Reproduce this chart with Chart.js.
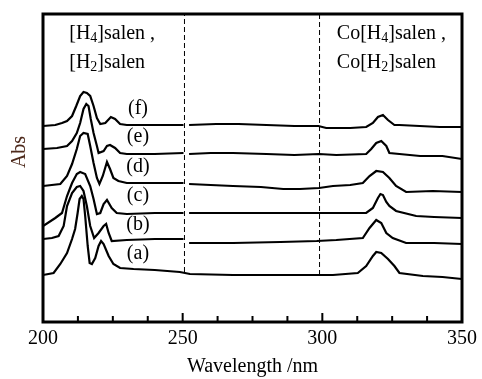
<!DOCTYPE html>
<html>
<head>
<meta charset="utf-8">
<script src="https://cdn.jsdelivr.net/npm/chart.js@4.4.1/dist/chart.umd.min.js"></script>
<style>
  html, body { margin: 0; padding: 0; background: #fff; }
  #wrap { width: 482px; height: 379px; }
</style>
</head>
<body>
<div id="wrap"><canvas id="chart" width="482" height="379"></canvas></div>
<script>
// UV spectra (a)-(f), stacked with an offset. [wavelength nm, Abs (arb.)]
// null = break in the trace just after the 250 nm splice
const curveA = [
  [200, 0.47], [203.8, 0.49], [206.2, 0.58], [208.6, 0.69], [210.4, 0.83], [211.5, 0.93],
  [212.4, 1.09], [213.1, 1.23], [213.9, 1.26], [214.5, 1.23], [215.1, 1.06], [216, 0.76],
  [216.7, 0.59], [217.5, 0.58], [218.7, 0.64], [219.9, 0.76], [220.8, 0.81], [221.7, 0.78],
  [223.5, 0.66], [225.2, 0.58], [227.6, 0.54], [232.4, 0.53], [240, 0.52], [249, 0.50],
  [252.6, 0.48], [268, 0.47], [285, 0.47], [298.8, 0.47], [303.8, 0.47], [312.7, 0.49],
  [315.7, 0.56], [318.1, 0.66], [319.3, 0.70], [321.1, 0.69], [323.5, 0.63], [325.8, 0.56],
  [327.6, 0.49], [336, 0.46], [343, 0.45], [350, 0.43]
];
const curveB = [
  [200, 0.83], [203.2, 0.84], [205.6, 0.86], [207.4, 0.96], [208.6, 1.16], [210.4, 1.29],
  [212.1, 1.35], [213.3, 1.36], [214.5, 1.31], [215.7, 1.16], [216.9, 0.96], [218.3, 0.84],
  [219.9, 0.89], [221.7, 0.96], [222.6, 0.98], [223.5, 0.89], [224.6, 0.81], [230, 0.82],
  [240, 0.83], [250.3, 0.83], [250.8, null], [252.3, 0.79], [268, 0.79], [285, 0.80],
  [298, 0.81], [305, 0.82], [314.5, 0.84], [316.9, 0.94], [319.3, 1.02], [321.1, 0.99],
  [322.9, 0.89], [325.2, 0.84], [330, 0.79], [340, 0.79], [350, 0.78]
];
const curveC = [
  [200, 0.96], [204.4, 1.04], [206.8, 1.09], [208.6, 1.26], [210.4, 1.39], [212.1, 1.48],
  [213.3, 1.50], [215.1, 1.48], [216.9, 1.36], [218.1, 1.23], [219.3, 1.08], [220.5, 1.09],
  [221.7, 1.18], [222.9, 1.22], [224.6, 1.14], [226.4, 1.09], [230, 1.08], [240, 1.09],
  [250.3, 1.09], [250.8, null], [252.3, 1.09], [268, 1.09], [285, 1.09], [298.8, 1.09],
  [315.7, 1.09], [318.1, 1.14], [319.9, 1.24], [320.8, 1.28], [321.7, 1.27], [322.9, 1.20],
  [324, 1.16], [326.4, 1.11], [333.6, 1.06], [340, 1.05], [350, 1.04]
];
const curveD = [
  [200, 1.36], [206.2, 1.38], [208.6, 1.46], [210.4, 1.58], [212.1, 1.73], [213.3, 1.86],
  [214.5, 1.89], [216, 1.88], [216.9, 1.76], [218.1, 1.59], [219.3, 1.44], [220.2, 1.38],
  [221.4, 1.46], [222.9, 1.60], [224, 1.53], [225.2, 1.44], [227, 1.41], [230, 1.39],
  [240, 1.39], [250.3, 1.39], [250.8, null], [252.3, 1.38], [260, 1.37], [268, 1.36],
  [278, 1.35], [286, 1.33], [292, 1.33], [298.8, 1.34], [303.8, 1.36], [310, 1.37],
  [314.5, 1.39], [316.9, 1.46], [319.3, 1.51], [321.7, 1.50], [324, 1.44], [326.4, 1.36],
  [330, 1.30], [339.5, 1.31], [350, 1.30]
];
const curveE = [
  [200, 1.73], [205, 1.74], [208.6, 1.76], [210.4, 1.81], [212.1, 1.89], [213.3, 1.99],
  [214.5, 2.13], [215.5, 2.18], [216.3, 2.16], [217.1, 2.03], [218.1, 1.89], [219.3, 1.76],
  [219.9, 1.69], [221.7, 1.71], [222.9, 1.76], [224, 1.77], [225.8, 1.74], [227.6, 1.69],
  [230, 1.68], [240, 1.68], [250.3, 1.69], [250.8, null], [252.3, 1.68], [260, 1.69],
  [268, 1.69], [280, 1.68], [290, 1.67], [298.8, 1.68], [305, 1.67], [315.7, 1.68],
  [317.5, 1.73], [319.3, 1.79], [321.1, 1.81], [322.9, 1.76], [324, 1.69], [327.6, 1.68],
  [335, 1.66], [343, 1.66], [350, 1.63]
];
const curveF = [
  [200, 1.96], [204.4, 1.97], [206.8, 1.99], [208.6, 2.01], [210.4, 2.06], [211.9, 2.16],
  [213.3, 2.26], [214.5, 2.30], [215.7, 2.29], [216.9, 2.26], [218.1, 2.16], [219.3, 2.04],
  [220.5, 1.98], [222.3, 1.99], [224.3, 2.05], [225.8, 2.03], [227.6, 1.98], [230, 1.97],
  [240, 1.97], [250.3, 1.97], [250.8, null], [252.3, 1.97], [262, 1.98], [270, 1.98],
  [280, 1.97], [290, 1.96], [298.6, 1.96], [301.4, 1.94], [310, 1.94], [315.7, 1.95],
  [318.1, 1.99], [319.9, 2.05], [321.7, 2.07], [323.5, 2.02], [325.8, 1.97], [327.6, 1.97],
  [334.8, 1.96], [342, 1.95], [350, 1.95]
];

const curveNames = ['(a)', '(b)', '(c)', '(d)', '(e)', '(f)'];
const xTickLabels = [200, 250, 300, 350];
const xMinorTicks = [212.5, 225, 237.5, 262.5, 275, 287.5, 312.5, 325, 337.5];
const cutLines = [250.65, 299.0];     // dashed separators (nm)
const cutLineEnds = [0.50, 0.47];     // they stop on trace (a)

const SERIF = '"Liberation Serif", "Times New Roman", serif';
const toXY = (pts) => pts.map(([x, y]) => ({ x, y }));

const datasets = [curveA, curveB, curveC, curveD, curveE, curveF].map((c, i) => ({
  label: curveNames[i],
  data: toXY(c),
  borderColor: '#000',
  borderWidth: 2.2,
  pointRadius: 0,
  tension: 0
}));
cutLines.forEach((wl, i) => datasets.push({
  label: 'cut' + i,
  data: [{ x: wl, y: cutLineEnds[i] }, { x: wl, y: 3.08 }],
  borderColor: '#000',
  borderWidth: 1,
  borderDash: [5, 3],
  pointRadius: 0
}));

// text with a subscript run: parts = [[text, isSub], ...]
function drawRich(ctx, parts, x, y) {
  ctx.textAlign = 'left';
  ctx.textBaseline = 'alphabetic';
  parts.forEach(([t, sub]) => {
    ctx.font = (sub ? '14px ' : '20px ') + SERIF;
    ctx.fillText(t, x, sub ? y + 3 : y);
    x += ctx.measureText(t).width;
  });
}

const framePlugin = {
  id: 'frame',
  afterDraw(chart) {
    const { ctx, chartArea: a, scales: { x, y } } = chart;
    ctx.save();
    ctx.strokeStyle = '#000';
    ctx.fillStyle = '#000';

    // inward ticks on the bottom axis
    ctx.lineWidth = 2;
    ctx.beginPath();
    xTickLabels.forEach(v => {
      const px = x.getPixelForValue(v);
      ctx.moveTo(px, a.bottom); ctx.lineTo(px, a.bottom - 9);
    });
    xMinorTicks.forEach(v => {
      const px = x.getPixelForValue(v);
      ctx.moveTo(px, a.bottom); ctx.lineTo(px, a.bottom - 6);
    });
    ctx.stroke();

    // box
    ctx.lineWidth = 3;
    ctx.strokeRect(a.left, a.top, a.right - a.left, a.bottom - a.top);

    // curve labels
    const labelY = [0.68, 0.97, 1.26, 1.55, 1.85, 2.13];
    ctx.font = '20px ' + SERIF;
    ctx.textAlign = 'center';
    ctx.textBaseline = 'middle';
    curveNames.forEach((n, i) => {
      ctx.fillText(n, x.getPixelForValue(234), y.getPixelForValue(labelY[i]));
    });

    // region notes
    const lx = x.getPixelForValue(209.4), rx = x.getPixelForValue(305.2);
    drawRich(ctx, [['[H', 0], ['4', 1], [']salen ,', 0]], lx, 39);
    drawRich(ctx, [['[H', 0], ['2', 1], [']salen', 0]], lx, 68);
    drawRich(ctx, [['Co[H', 0], ['4', 1], [']salen ,', 0]], rx, 39);
    drawRich(ctx, [['Co[H', 0], ['2', 1], [']salen', 0]], rx, 68);

    // y title
    ctx.translate(20, 152);
    ctx.rotate(-Math.PI / 2);
    ctx.font = '20px ' + SERIF;
    ctx.fillStyle = '#4e2a1c';
    ctx.textAlign = 'center';
    ctx.textBaseline = 'middle';
    ctx.fillText('Abs', 0, 0);
    ctx.restore();
  }
};

new Chart(document.getElementById('chart'), {
  type: 'line',
  data: { datasets },
  options: {
    responsive: false,
    animation: false,
    devicePixelRatio: 1,
    layout: { padding: { top: 14, right: 20, left: 0, bottom: 0 } },
    plugins: { legend: { display: false }, tooltip: { enabled: false } },
    scales: {
      x: {
        type: 'linear',
        min: 200,
        max: 350,
        afterFit: (s) => { s.height = 57; },
        border: { display: false },
        grid: { display: false, drawTicks: false },
        ticks: {
          stepSize: 50,
          padding: 5,
          color: '#000',
          font: { family: SERIF, size: 20 },
          maxRotation: 0
        },
        title: {
          display: true,
          text: 'Wavelength /nm',
          color: '#000',
          font: { family: SERIF, size: 20 },
          padding: { top: 0, bottom: 0 }
        }
      },
      y: {
        min: 0,
        max: 3.08,
        afterFit: (s) => { s.width = 43; },
        border: { display: false },
        grid: { display: false, drawTicks: false },
        ticks: { display: false }
      }
    }
  },
  plugins: [framePlugin]
});
</script>
</body>
</html>
